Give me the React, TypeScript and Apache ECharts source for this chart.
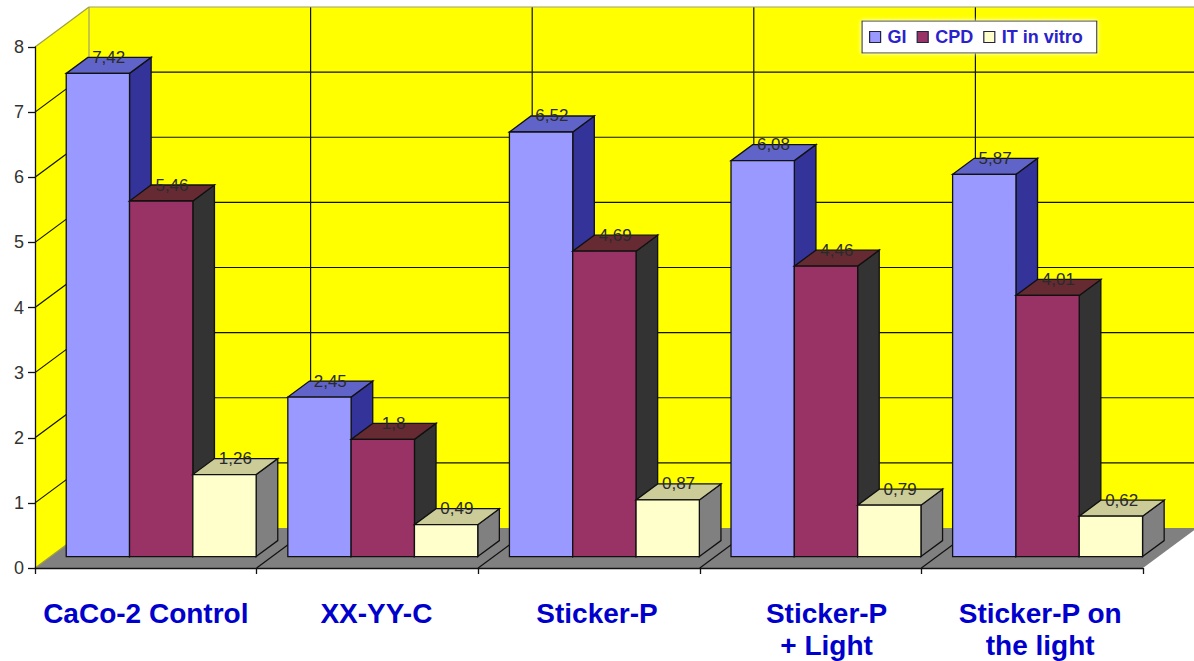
import React, { useEffect, useRef } from "react";
import * as echarts from "echarts";

const categories = ["CaCo-2 Control", "XX-YY-C", "Sticker-P", "Sticker-P\n+ Light", "Sticker-P on\nthe light"];
const labelNudge = [0, 9, 8, 16, 8];
const seriesNames = ["GI", "CPD", "IT in vitro"];
const giValues = [7.42, 2.45, 6.52, 6.08, 5.87];
const cpdValues = [5.46, 1.8, 4.69, 4.46, 4.01];
const itValues = [1.26, 0.49, 0.87, 0.79, 0.62];
const yTicks = [0, 1, 2, 3, 4, 5, 6, 7, 8];

// front, top and side shades of each cuboid
const faces = [
  { front: "#9999ff", top: "#6064c8", side: "#333399" },
  { front: "#993366", top: "#662a33", side: "#333333" },
  { front: "#ffffcc", top: "#cccc99", side: "#808080" },
];

// oblique projection: how far the chart's depth runs across the page
const DEPTH_X = 54;
const DEPTH_Y = -40;
const BAR_NEAR = 0.285;
const BAR_FAR = 0.685;
const GAP_RATIO = 0.5;

const FONT = '"Liberation Sans", Arial, sans-serif';

const poly = (points: number[][], fill: string, stroke: string, lineWidth = 1.3) => ({
  type: "polygon",
  shape: { points },
  style: { fill, stroke, lineWidth },
});

const seg = (a: number[], b: number[], stroke: string, lineWidth = 1.2) => ({
  type: "line",
  shape: { x1: a[0], y1: a[1], x2: b[0], y2: b[1] },
  style: { stroke, lineWidth },
});

const shift = (p: number[], z: number) => [p[0] + DEPTH_X * z, p[1] + DEPTH_Y * z];

function renderRoom(_: any, api: any) {
  const band = api.size([1, 0])[0];
  const first = api.coord([0, 0]);
  const left = first[0] - band / 2;
  const right = left + band * categories.length;
  const y0 = first[1];
  const yTop = api.coord([0, yTicks[yTicks.length - 1]])[1];
  const children: any[] = [];

  children.push(
    poly([[left, y0], shift([left, y0], 1), shift([left, yTop], 1), [left, yTop]], "#ffff00", "none", 0),
    poly([shift([left, y0], 1), shift([right, y0], 1), shift([right, yTop], 1), shift([left, yTop], 1)], "#ffff00", "none", 0),
    poly([[left, y0], [right, y0], shift([right, y0], 1), shift([left, y0], 1)], "#808080", "none", 0),
  );

  yTicks.slice(1, -1).forEach((t) => {
    const y = api.coord([0, t])[1];
    children.push(seg([left, y], shift([left, y], 1), "#111100"));
    children.push(seg(shift([left, y], 1), shift([right, y], 1), "#111100"));
  });

  categories.forEach((_c, i) => {
    if (i === 0) return;
    const x = left + band * i;
    children.push(seg([x, y0], shift([x, y0], 1), "#111111"));
    children.push(seg(shift([x, y0], 1), shift([x, yTop], 1), "#111111"));
  });

  const tl = shift([left, yTop], 1);
  children.push(seg(tl, shift([right, yTop], 1), "#a0a070"));
  children.push(seg(tl, shift([left, y0], 1), "#a0a070"));
  children.push(seg([left, yTop], tl, "#a0a040"));
  children.push(seg([left, y0], shift([left, y0], 1), "#a0a040"));

  return { type: "group", children };
}

function makeBarRenderer(seriesIndex: number) {
  return (_: any, api: any) => {
    const band = api.size([1, 0])[0];
    const idx = api.value(0);
    const value = api.value(1);
    const base = api.coord([idx, 0]);
    const top = api.coord([idx, value]);
    const barWidth = band / (seriesNames.length + GAP_RATIO);
    const slotLeft = base[0] - band / 2 + (barWidth * GAP_RATIO) / 2;
    const x0 = slotLeft + barWidth * seriesIndex;
    const x1 = x0 + barWidth;
    const a = shift([x0, base[1]], BAR_NEAR);
    const b = shift([x1, base[1]], BAR_NEAR);
    const c = shift([x1, top[1]], BAR_NEAR);
    const d = shift([x0, top[1]], BAR_NEAR);
    const depth = BAR_FAR - BAR_NEAR;
    const far = (p: number[]) => shift(p, depth);
    const f = faces[seriesIndex];
    const topFar = far(d);
    return {
      type: "group",
      children: [
        poly([b, far(b), far(c), c], f.side, "#111111"),
        poly([d, c, far(c), far(d)], f.top, "#111111"),
        poly([a, b, c, d], f.front, "#111111"),
        {
          type: "text",
          x: (d[0] + far(c)[0]) / 2,
          y: topFar[1],
          style: {
            text: String(value).replace(".", ","),
            fill: "#2a2a2a",
            font: `17px ${FONT}`,
            align: "center",
            verticalAlign: "middle",
          },
        },
      ],
    };
  };
}

const barValues = [giValues, cpdValues, itValues];

export default function App() {
  const ref = useRef<HTMLDivElement>(null);
  useEffect(() => {
    const chart = echarts.init(ref.current!, null, { renderer: "svg" });
    chart.setOption({
      animation: false,
      backgroundColor: "#ffffff",
      grid: { left: 35, right: 51, top: 47, bottom: 93 },
      legend: {
        data: seriesNames.map((name, i) => ({
          name,
          icon: "rect",
          itemStyle: { color: faces[i].front, borderColor: "#222244", borderWidth: 1.2 },
        })),
        left: 862,
        top: 21,
        orient: "horizontal",
        itemWidth: 11,
        itemHeight: 11,
        itemGap: 10,
        padding: [7, 14, 7, 7],
        backgroundColor: "#ffffff",
        borderColor: "#333333",
        borderWidth: 1.2,
        shadowColor: "#ffffff",
        shadowBlur: 4,
        z: 20,
        textStyle: { color: "#2a22cc", fontFamily: FONT, fontSize: 18, fontWeight: "bold", padding: [0, 0, 0, 2] },
      },
      xAxis: {
        type: "category",
        z: 10,
        data: categories.map((value, i) => ({
          value,
          textStyle: { padding: [0, 0, 0, labelNudge[i] * 2] },
        })),
        axisLine: { lineStyle: { color: "#111111", width: 1.3 } },
        axisTick: { show: true, alignWithLabel: false, length: 6, lineStyle: { color: "#111111", width: 1.3 } },
        axisLabel: {
          interval: 0,
          margin: 29,
          color: "#0000cc",
          fontFamily: FONT,
          fontSize: 28,
          fontWeight: "bold",
          lineHeight: 32,
        },
        splitLine: { show: false },
      },
      yAxis: {
        type: "value",
        z: 10,
        min: 0,
        max: 8,
        interval: 1,
        axisLine: { show: true, lineStyle: { color: "#111111", width: 1.3 } },
        axisTick: { show: true, length: 7, lineStyle: { color: "#111111", width: 1.3 } },
        axisLabel: { color: "#333333", fontFamily: FONT, fontSize: 18, margin: 11 },
        splitLine: { show: false },
      },
      series: [
        {
          type: "custom",
          name: "room",
          silent: true,
          clip: false,
          z: 1,
          renderItem: renderRoom,
          data: [[0, 0]],
          encode: { x: 0, y: 1 },
        },
        ...seriesNames.map((name, s) => ({
          type: "custom",
          name,
          clip: false,
          z: 3 + s,
          itemStyle: { color: faces[s].front },
          renderItem: makeBarRenderer(s),
          data: barValues[s].map((v, i) => [i, v]),
          encode: { x: 0, y: 1 },
        })),
      ],
    });
    return () => chart.dispose();
  }, []);
  return <div ref={ref} style={{ position: "absolute", left: 0, top: 0, width: 1194, height: 661 }} />;
}
